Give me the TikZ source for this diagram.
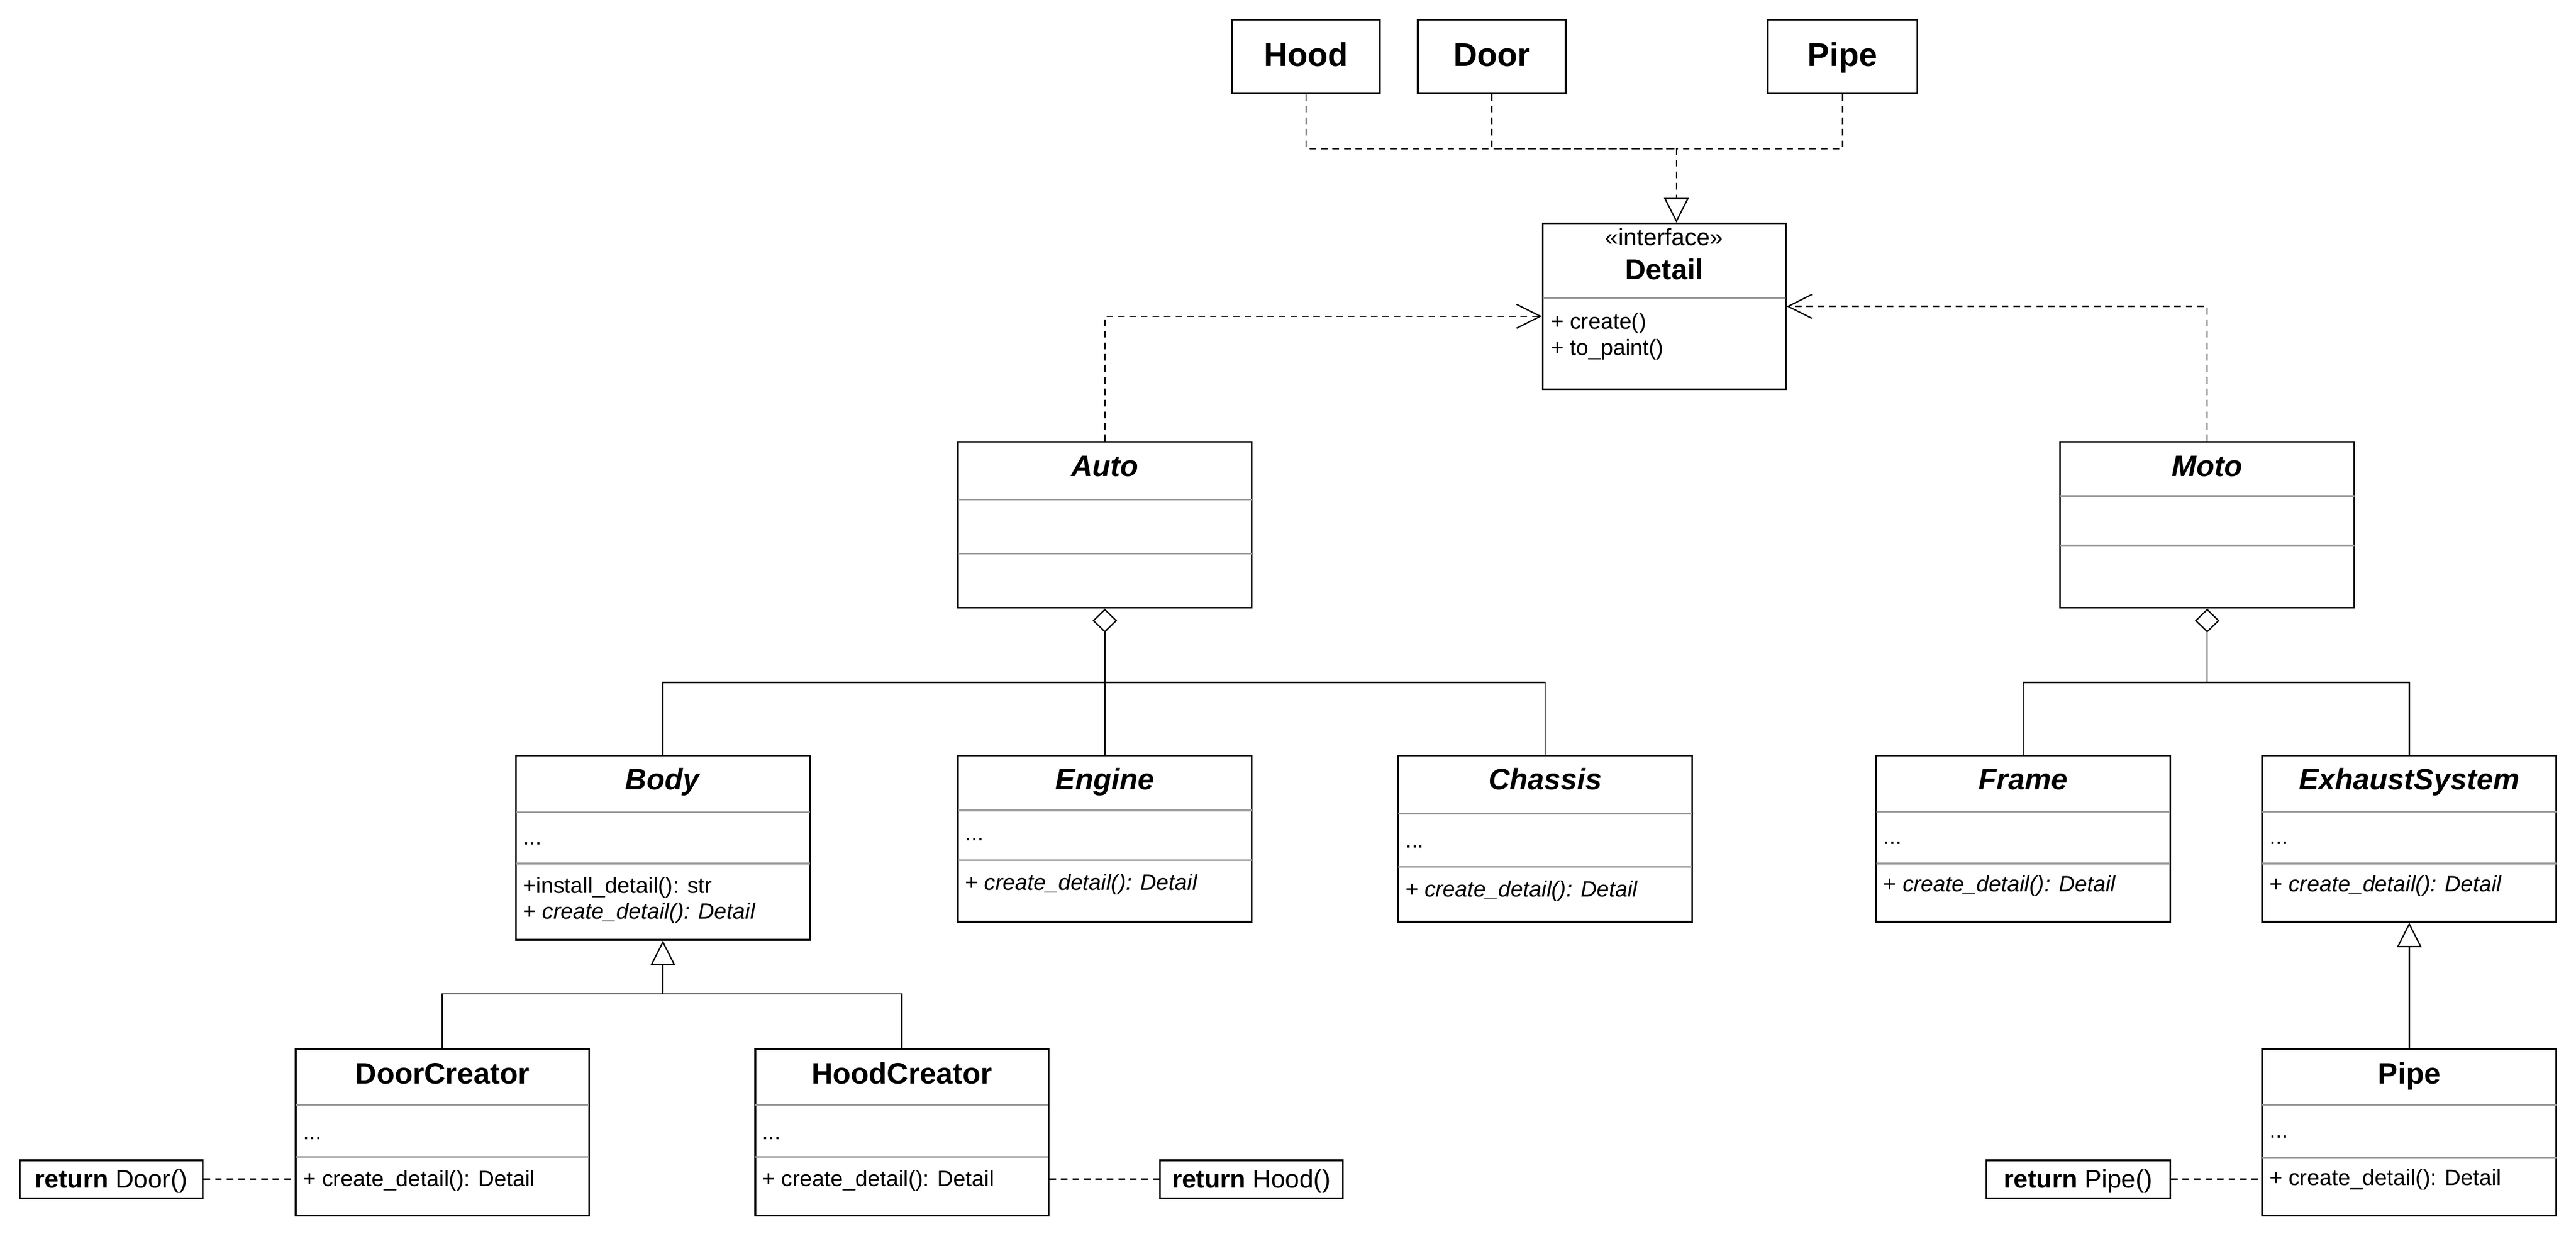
\documentclass[tikz,border=0pt]{standalone}
\usepackage{fontspec}
\setmainfont{Liberation Sans}
\usetikzlibrary{arrows.meta}

\begin{document}
\begin{tikzpicture}[x=1pt,y=1pt,yscale=-1,xscale=1,line width=1pt,
  box/.style={draw, fill=white, inner sep=0pt, minimum width=179pt, minimum height=101pt},
  part/.style={box, minimum width=90pt, minimum height=45pt, text height=11.8pt, text depth=0pt, font=\fontsize{20}{24}\selectfont\bfseries},
  note/.style={box, minimum width=111.5pt, minimum height=23pt, text height=10.8pt, text depth=0pt, font=\fontsize{15.5}{18}\selectfont},
  sep/.style={color={rgb, 255:red, 153; green, 153; blue, 153 }},
  ttl/.style={anchor=base, inner sep=0pt, font=\fontsize{18}{22}\selectfont\bfseries},
  mbr/.style={anchor=base west, inner sep=0pt, font=\fontsize{13.5}{16}\selectfont},
  link/.style={line width=0.8pt},
  dsh/.style={link, dash pattern=on 4pt off 3pt},
  agg/.style={link, {Diamond[open,length=14.5pt,width=15pt]}-},
  inh/.style={link, -{Triangle[open,length=15pt,width=15pt]}},
  dep/.style={dsh, -{Straight Barb[length=14.5pt,width=14.5pt]}}]
\useasboundingbox (0,0) rectangle (1568,751);

%Shape: Parts
\node[part] (hood) at (795,34.5) {Hood};
\node[part] (door) at (908,34.5) {Door};
\node[part, minimum width=91pt] (pipe) at (1121.5,34.5) {Pipe};

%Shape: Interface
\node[box, minimum width=148pt] (detail) at (1013,186.5) {};
\draw[sep] (939,181.6) -- (1087,181.6);
% Text Node
\node[anchor=base, inner sep=0pt, font=\fontsize{14.5}{17}\selectfont] (detail-s) at (1013,149.4) {«interface»};
\node[ttl, font=\fontsize{17.5}{21}\selectfont\bfseries] (detail-t) at (1013,170) {Detail};
\node[mbr] (detail-m1) at (943.5,200.2) {+ create()};
\node[mbr] (detail-m2) at (943.5,216.3) {+ to\_paint()};

%Shape: Auto
\node[box] (auto) at (672.5,319.5) {};
\draw[sep] (583,304) -- (762,304);
\draw[sep] (583,337) -- (762,337);
\node[ttl] (auto-t) at (672.5,290) {\textit{Auto}};

%Shape: Moto
\node[box] (moto) at (1343.5,319.5) {};
\draw[sep] (1254,302) -- (1433,302);
\draw[sep] (1254,332) -- (1433,332);
\node[ttl] (moto-t) at (1343.5,290) {\textit{Moto}};

%Shape: Body
\node[box, minimum height=112pt] (body) at (403.5,516) {};
\draw[sep] (314,494.4) -- (493,494.4);
\draw[sep] (314,525.6) -- (493,525.6);
\node[ttl] (body-t) at (403.5,480.5) {\textit{Body}};
\node[mbr] (body-a) at (318,514) {...};
\node[mbr] (body-m1) at (318,543.7) {+install\_detail(): str};
\node[mbr] (body-m2) at (318,559.3) {+ \textit{create\_detail(): Detail}};

%Shape: Engine
\node[box] (engine) at (672.5,510.5) {};
\draw[sep] (583,493.3) -- (762,493.3);
\draw[sep] (583,523.6) -- (762,523.6);
\node[ttl] (engine-t) at (672.5,480.5) {\textit{Engine}};
\node[mbr] (engine-a) at (587,511.7) {...};
\node[mbr] (engine-m) at (587,541.7) {+ \textit{create\_detail(): Detail}};

%Shape: Chassis
\node[box] (chassis) at (940.5,510.5) {};
\draw[sep] (851,495.3) -- (1030,495.3);
\draw[sep] (851,527.7) -- (1030,527.7);
\node[ttl] (chassis-t) at (940.5,480.5) {\textit{Chassis}};
\node[mbr] (chassis-a) at (855,515.9) {...};
\node[mbr] (chassis-m) at (855,545.9) {+ \textit{create\_detail(): Detail}};

%Shape: Frame
\node[box] (frame) at (1231.5,510.5) {};
\draw[sep] (1142,494.2) -- (1321,494.2);
\draw[sep] (1142,525.6) -- (1321,525.6);
\node[ttl] (frame-t) at (1231.5,480.5) {\textit{Frame}};
\node[mbr] (frame-a) at (1146,513.8) {...};
\node[mbr] (frame-m) at (1146,542.7) {+ \textit{create\_detail(): Detail}};

%Shape: ExhaustSystem
\node[box] (exhaust) at (1466.5,510.5) {};
\draw[sep] (1377,494.2) -- (1556,494.2);
\draw[sep] (1377,525.6) -- (1556,525.6);
\node[ttl] (exhaust-t) at (1466.5,480.5) {\textit{ExhaustSystem}};
\node[mbr] (exhaust-a) at (1381,513.8) {...};
\node[mbr] (exhaust-m) at (1381,542.7) {+ \textit{create\_detail(): Detail}};

%Shape: DoorCreator
\node[box, minimum width=178.5pt, minimum height=101.5pt] (doorcr) at (269.25,689.25) {};
\draw[sep] (180,672.5) -- (358.5,672.5);
\draw[sep] (180,704.2) -- (358.5,704.2);
\node[ttl] (doorcr-t) at (269.25,659.5) {DoorCreator};
\node[mbr] (doorcr-a) at (184,693.5) {...};
\node[mbr] (doorcr-m) at (184,722.2) {+ create\_detail(): Detail};

%Shape: HoodCreator
\node[box, minimum width=178.5pt, minimum height=101.5pt] (hoodcr) at (549,689.25) {};
\draw[sep] (459.75,672.5) -- (638.25,672.5);
\draw[sep] (459.75,704.2) -- (638.25,704.2);
\node[ttl] (hoodcr-t) at (549,659.5) {HoodCreator};
\node[mbr] (hoodcr-a) at (463.5,693.5) {...};
\node[mbr] (hoodcr-m) at (463.5,722.2) {+ create\_detail(): Detail};

%Shape: Pipe
\node[box, minimum height=101.5pt] (pipecls) at (1466.5,689.25) {};
\draw[sep] (1377,672.5) -- (1556,672.5);
\draw[sep] (1377,704.4) -- (1556,704.4);
\node[ttl] (pipecls-t) at (1466.5,659.5) {Pipe};
\node[mbr] (pipecls-a) at (1381,692.5) {...};
\node[mbr] (pipecls-m) at (1381,721.5) {+ create\_detail(): Detail};

%Shape: Notes
\node[note] (doornote) at (67.75,717.7) {\textbf{return} Door()};
\node[note] (hoodnote) at (761.75,717.7) {\textbf{return} Hood()};
\node[note, minimum width=112pt] (pipenote) at (1265,717.7) {\textbf{return} Pipe()};

%Straight Lines: realization
\coordinate (realj) at (1020.4,90.4);
\draw[dsh] (hood.south) |- (realj);
\draw[dsh] (door.south) |- (realj);
\draw[dsh] (pipe.south) |- (realj);
\draw[dsh,inh] (realj) -- (realj |- detail.north);

%Straight Lines: dependency
\draw[dep] (auto.north) |- ([yshift=6pt]detail.west);
\draw[dep] (moto.north) |- (detail.east);

%Straight Lines: aggregation
\coordinate (autobus) at (672.5,415.4);
\draw[agg] (auto.south) -- (autobus);
\draw[link] (autobus) -| (body.north);
\draw[link] (autobus) -- (engine.north);
\draw[link] (autobus) -| (chassis.north);
\coordinate (motobus) at (1343.5,415.4);
\draw[agg] (moto.south) -- (motobus);
\draw[link] (motobus) -| (frame.north);
\draw[link] (motobus) -| (exhaust.north);

%Straight Lines: inheritance
\coordinate (bodybus) at (403.5,605);
\draw[inh] (bodybus) -- (body.south);
\draw[link] (bodybus) -| (doorcr.north);
\draw[link] (bodybus) -| (hoodcr.north);
\draw[inh] (pipecls.north) -- (exhaust.south);

%Straight Lines: notes
\draw[dsh] (doornote.east) -- (doornote.east -| doorcr.west);
\draw[dsh] (hoodcr.east |- hoodnote.west) -- (hoodnote.west);
\draw[dsh] (pipenote.east) -- (pipenote.east -| pipecls.west);

\end{tikzpicture}
\end{document}
